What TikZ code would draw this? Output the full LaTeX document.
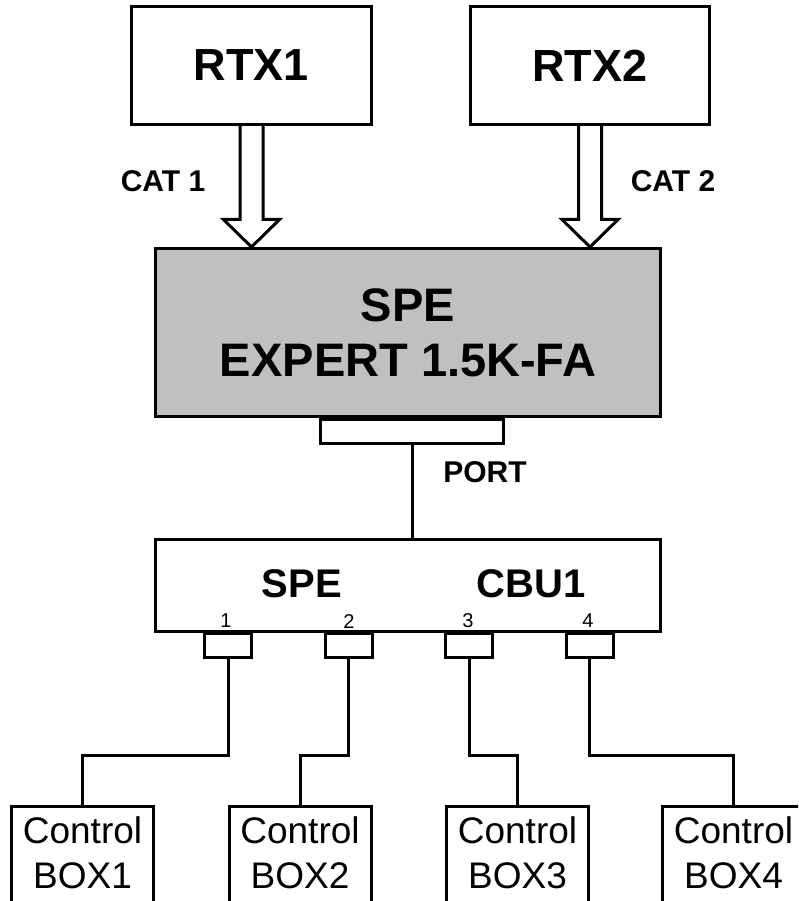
\documentclass[tikz,border=0pt]{standalone}
\usepackage{fontspec}
\setmainfont{Liberation Sans}
\usetikzlibrary{positioning,calc}
\newcommand{\sz}[1]{\fontsize{#1}{#1}\selectfont}

\begin{document}
\begin{tikzpicture}[x=1pt,y=-1pt]
    \tikzstyle{unit}=[draw, line width=3pt, inner sep=0pt, align=center]
    \tikzstyle{plug}=[draw, line width=3pt, inner sep=0pt, minimum width=47pt, minimum height=24pt, anchor=north]
    \tikzstyle{ctrl}=[unit, minimum width=142pt, minimum height=100pt, anchor=north, text depth=7pt, font=\fontsize{37}{45}\selectfont]
    \tikzstyle{wire}=[line width=3pt]
    \useasboundingbox (0,0) rectangle (798,901);
    \clip (0,0) rectangle (798,901);

    \node[unit, minimum width=240pt, minimum height=118pt, font=\sz{45}\bfseries] (rtx1) at (251.5,65.5) {RTX1};
    \node[unit, minimum width=239pt, minimum height=118pt, font=\sz{45}\bfseries] (rtx2) at (590,65.5) {RTX2};
    \node[unit, fill={rgb,255:red,192;green,192;blue,192}, minimum width=505pt, minimum height=168pt, font=\fontsize{47}{55}\selectfont\bfseries] (spe) at (408,332.5) {SPE\\EXPERT 1.5K-FA};
    \node[unit, minimum width=183pt, minimum height=24pt, below=0pt of spe, xshift=4pt] (port) {};
    \node[font=\sz{30}\bfseries] (portlbl) at (485,472.5) {PORT};
    \node[font=\sz{30}\bfseries] (cat1) at (163,181) {CAT 1};
    \node[font=\sz{30}\bfseries] (cat2) at (673,181) {CAT 2};

    \draw[wire, line join=miter] ($(rtx1.south)+(-11.5,0)$) -- ++(0,93.5) -- ++(-16.5,0) -- (rtx1.south |- spe.north)
        -- ($(rtx1.south)+(28,93.5)$) -- ++(-16.5,0) -- ($(rtx1.south)+(11.5,0)$);
    \draw[wire, line join=miter] ($(rtx2.south)+(-11.5,0)$) -- ++(0,93.5) -- ++(-16.5,0) -- (rtx2.south |- spe.north)
        -- ($(rtx2.south)+(28,93.5)$) -- ++(-16.5,0) -- ($(rtx2.south)+(11.5,0)$);

    \node[unit, minimum width=505pt, minimum height=92pt] (cbu) at (408,585.5) {};
    \node[font=\sz{40}\bfseries] (cbuspe) at (302,583.5) {SPE};
    \node[font=\sz{40}\bfseries] (cbuname) at (531,583.5) {CBU1};
    \draw[wire] (port.south) -- (port.south |- cbu.north);

    \node[plug] (p1) at (228,631.5) {};
    \node[plug] (p2) at (348.5,631.5) {};
    \node[plug] (p3) at (469,631.5) {};
    \node[plug] (p4) at (589.5,631.5) {};
    \node[font=\sz{20}] (n1) at (226,621) {1};
    \node[font=\sz{20}] (n2) at (349,622) {2};
    \node[font=\sz{20}] (n3) at (468,621) {3};
    \node[font=\sz{20}] (n4) at (588,621) {4};

    \node[ctrl] (box1) at (82.5,804.5) {Control\\BOX1};
    \node[ctrl] (box2) at (300,804.5) {Control\\BOX2};
    \node[ctrl] (box3) at (517.5,804.5) {Control\\BOX3};
    \node[ctrl] (box4) at (733.5,804.5) {Control\\BOX4};

    \draw[wire] (p1.south) -- ++(0,96.5) -| (box1.north);
    \draw[wire] (p2.south) -- ++(0,96.5) -| (box2.north);
    \draw[wire] (p3.south) -- ++(0,96.5) -| (box3.north);
    \draw[wire] (p4.south) -- ++(0,96.5) -| (box4.north);
\end{tikzpicture}
\end{document}
